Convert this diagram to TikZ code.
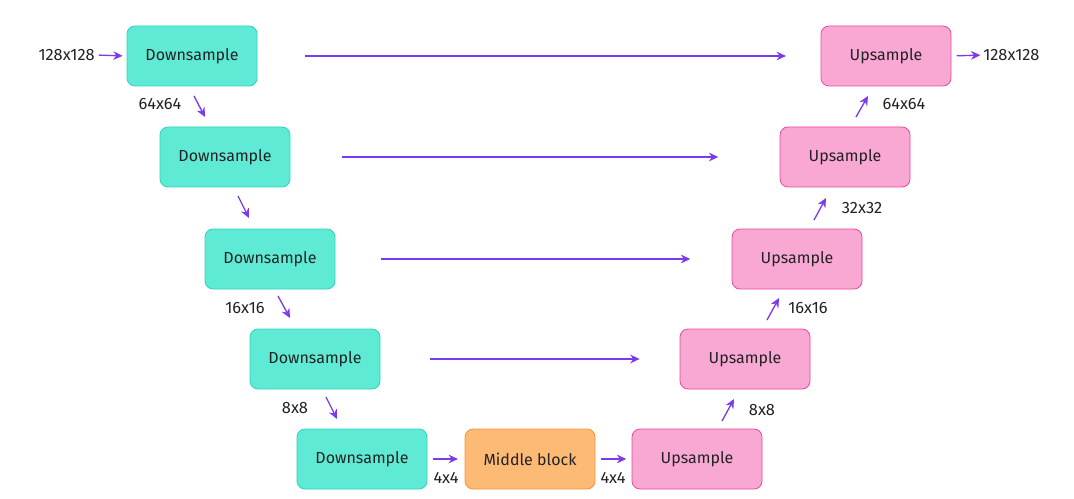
\documentclass[tikz,border=0pt]{standalone}
\usepackage{fontspec}
\setmainfont{Fira Sans}
\usetikzlibrary{arrows.meta}
\definecolor{tealf}{HTML}{5EEAD4}
\definecolor{teald}{HTML}{2DD4BF}
\definecolor{pinkf}{HTML}{F9A8D4}
\definecolor{pinkd}{HTML}{EC4899}
\definecolor{orf}{HTML}{FDBA74}
\definecolor{ord}{HTML}{FB923C}
\definecolor{arr}{HTML}{7C3AED}
\definecolor{txt}{HTML}{222222}
\tikzset{
  blk/.style={rounded corners=6pt, minimum width=97.5pt, minimum height=45pt, line width=0.6pt, font=\fontsize{12}{14}\selectfont, text=txt, inner sep=0pt},
  down/.style={blk, fill=tealf, draw=teald},
  up/.style={blk, fill=pinkf, draw=pinkd},
  mid/.style={blk, fill=orf, draw=ord},
  lab/.style={font=\fontsize{12.3}{14}\selectfont, text=txt, inner sep=0pt},
  ar/.style={draw=arr, line width=1pt, -{Stealth[length=7pt,width=6.5pt]}}
}
\begin{document}
\begin{tikzpicture}[x=0.75pt,y=-0.75pt]
\useasboundingbox (0,0) rectangle (1074,499);
% down path
\node[down] (d1) at (192,56) {Downsample};
\node[down] (d2) at (225,157) {Downsample};
\node[down] (d3) at (270,259) {Downsample};
\node[down] (d4) at (315,359) {Downsample};
\node[down] (d5) at (362,459) {Downsample};
\node[mid] (m) at (530,459) {Middle block};
\node[up] (u5) at (697,459) {Upsample};
\node[up] (u4) at (745,359) {Upsample};
\node[up] (u3) at (797,259) {Upsample};
\node[up] (u2) at (845,157) {Upsample};
\node[up] (u1) at (886,56) {Upsample};
% skip connections
\draw[ar, shorten <=36pt, shorten >=26pt] (d1.east) -- (u1.west);
\draw[ar, shorten <=39pt, shorten >=46pt] (d2.east) -- (u2.west);
\draw[ar, shorten <=34pt, shorten >=31pt] (d3.east) -- (u3.west);
\draw[ar, shorten <=37pt, shorten >=30pt] (d4.east) -- (u4.west);
% input / output
\node[lab, anchor=east] (in) at (95,55) {128x128};
\draw[ar, shorten <=3pt, shorten >=3pt] (in.east) -- (d1.west);
\node[lab, anchor=west] (out) at (983,55) {128x128};
\draw[ar, shorten <=4pt, shorten >=2pt] (u1.east) -- (out.west);
% bottom
\draw[ar, shorten <=4pt, shorten >=5pt] (d5.east) -- (m.west);
\draw[ar, shorten <=4pt, shorten >=4pt] (m.east) -- (u5.west);
\node[lab] (l44a) at (446,478) {4x4};
\node[lab] (l44b) at (613,478) {4x4};
% down diagonal arrows
\coordinate (a1s) at (194,96); \coordinate (a1e) at (205,117);
\coordinate (a2s) at (238,196); \coordinate (a2e) at (249,218);
\coordinate (a3s) at (278,296); \coordinate (a3e) at (290,318);
\coordinate (a4s) at (326,397); \coordinate (a4e) at (337,419);
\draw[ar] (a1s) -- (a1e);
\draw[ar] (a2s) -- (a2e);
\draw[ar] (a3s) -- (a3e);
\draw[ar] (a4s) -- (a4e);
\node[lab] (l64a) at (160,104) {64x64};
\node[lab] (l16a) at (245,308) {16x16};
\node[lab] (l8a) at (295,408) {8x8};
% up diagonal arrows
\coordinate (b1s) at (722,421); \coordinate (b1e) at (734,399);
\coordinate (b2s) at (767,320); \coordinate (b2e) at (779,298);
\coordinate (b3s) at (814,220); \coordinate (b3e) at (826,198);
\coordinate (b4s) at (856,117); \coordinate (b4e) at (868,96);
\draw[ar] (b1s) -- (b1e);
\draw[ar] (b2s) -- (b2e);
\draw[ar] (b3s) -- (b3e);
\draw[ar] (b4s) -- (b4e);
\node[lab] (l8b) at (762,410) {8x8};
\node[lab] (l16b) at (808,308) {16x16};
\node[lab] (l32b) at (862,208) {32x32};
\node[lab] (l64b) at (904,104) {64x64};
\end{tikzpicture}
\end{document}
